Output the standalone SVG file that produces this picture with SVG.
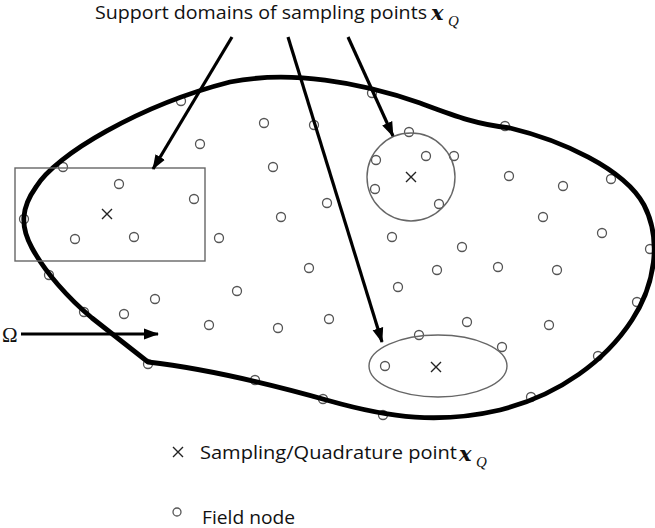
<svg xmlns="http://www.w3.org/2000/svg" width="655" height="528" viewBox="0 0 655 528">
  <defs>
    <marker id="head" markerUnits="userSpaceOnUse" markerWidth="15" markerHeight="14" viewBox="0 0 15 14" refX="14" refY="7" orient="auto">
      <path d="M0,1.5 L15,7 L0,12.5 Z" fill="#000"/>
    </marker>
    <style>
      .node { fill: none; stroke: #555; stroke-width: 1.3; }
      .domain { fill: none; stroke: #666; stroke-width: 1.4; }
      .cross { stroke: #222; stroke-width: 1.4; fill: none; }
      .arrow { stroke: #000; stroke-width: 3.2; fill: none; marker-end: url(#head); }
      .boundary { fill: none; stroke: #000; stroke-width: 4.8; stroke-linejoin: round; }
      .label { font-family: "Open Sans", "Liberation Sans", sans-serif; fill: #111; }
      .mathx { font-family: "DejaVu Serif", "Liberation Serif", serif; font-style: italic; font-weight: bold; fill: #111; }
      .mathsub { font-family: "Liberation Serif", serif; font-style: italic; fill: #111; }
    </style>
  </defs>
  <rect width="655" height="528" fill="#fff"/>

  <!-- field nodes -->
  <g id="field-nodes">
    <circle id="n1" class="node" cx="181" cy="101" r="4.5"/>
    <circle id="n2" class="node" cx="264" cy="123" r="4.5"/>
    <circle id="n3" class="node" cx="314" cy="125" r="4.5"/>
    <circle id="n4" class="node" cx="200" cy="144" r="4.5"/>
    <circle id="n5" class="node" cx="273" cy="167" r="4.5"/>
    <circle id="n6" class="node" cx="63" cy="167" r="4.5"/>
    <circle id="n7" class="node" cx="119" cy="184" r="4.5"/>
    <circle id="n8" class="node" cx="194" cy="199" r="4.5"/>
    <circle id="n9" class="node" cx="327" cy="203" r="4.5"/>
    <circle id="n10" class="node" cx="281" cy="217" r="4.5"/>
    <circle id="n11" class="node" cx="24" cy="219" r="4.5"/>
    <circle id="n12" class="node" cx="75" cy="239" r="4.5"/>
    <circle id="n13" class="node" cx="134" cy="237" r="4.5"/>
    <circle id="n14" class="node" cx="219" cy="238" r="4.5"/>
    <circle id="n15" class="node" cx="309" cy="268" r="4.5"/>
    <circle id="n16" class="node" cx="49" cy="275" r="4.5"/>
    <circle id="n17" class="node" cx="237" cy="291" r="4.5"/>
    <circle id="n18" class="node" cx="155" cy="299" r="4.5"/>
    <circle id="n19" class="node" cx="84" cy="312" r="4.5"/>
    <circle id="n20" class="node" cx="124" cy="314" r="4.5"/>
    <circle id="n21" class="node" cx="209" cy="325" r="4.5"/>
    <circle id="n22" class="node" cx="278" cy="328" r="4.5"/>
    <circle id="n23" class="node" cx="329" cy="319" r="4.5"/>
    <circle id="n24" class="node" cx="148" cy="364" r="4.5"/>
    <circle id="n25" class="node" cx="255" cy="380" r="4.5"/>
    <circle id="n26" class="node" cx="372" cy="93" r="4.5"/>
    <circle id="n27" class="node" cx="505" cy="126" r="4.5"/>
    <circle id="n28" class="node" cx="409" cy="132" r="4.5"/>
    <circle id="n29" class="node" cx="376" cy="160" r="4.5"/>
    <circle id="n30" class="node" cx="426" cy="156" r="4.5"/>
    <circle id="n31" class="node" cx="454" cy="156" r="4.5"/>
    <circle id="n32" class="node" cx="375" cy="189" r="4.5"/>
    <circle id="n33" class="node" cx="439" cy="204" r="4.5"/>
    <circle id="n34" class="node" cx="509" cy="176" r="4.5"/>
    <circle id="n35" class="node" cx="563" cy="186" r="4.5"/>
    <circle id="n36" class="node" cx="611" cy="179" r="4.5"/>
    <circle id="n37" class="node" cx="543" cy="217" r="4.5"/>
    <circle id="n38" class="node" cx="602" cy="233" r="4.5"/>
    <circle id="n39" class="node" cx="650" cy="249" r="4.5"/>
    <circle id="n40" class="node" cx="392" cy="237" r="4.5"/>
    <circle id="n41" class="node" cx="462" cy="247" r="4.5"/>
    <circle id="n42" class="node" cx="437" cy="270" r="4.5"/>
    <circle id="n43" class="node" cx="498" cy="267" r="4.5"/>
    <circle id="n44" class="node" cx="557" cy="270" r="4.5"/>
    <circle id="n45" class="node" cx="398" cy="287" r="4.5"/>
    <circle id="n46" class="node" cx="467" cy="322" r="4.5"/>
    <circle id="n47" class="node" cx="549" cy="325" r="4.5"/>
    <circle id="n48" class="node" cx="637" cy="302" r="4.5"/>
    <circle id="n49" class="node" cx="419" cy="335" r="4.5"/>
    <circle id="n50" class="node" cx="502" cy="347" r="4.5"/>
    <circle id="n51" class="node" cx="385" cy="366" r="4.5"/>
    <circle id="n52" class="node" cx="598" cy="356" r="4.5"/>
    <circle id="n53" class="node" cx="323" cy="399" r="4.5"/>
    <circle id="n54" class="node" cx="383" cy="415" r="4.5"/>
    <circle id="n55" class="node" cx="531" cy="397" r="4.5"/>
  </g>

  <!-- problem domain boundary -->
  <g id="domain-boundary">
    <path class="boundary" d="M148,362 L92,318 C68,298 45,272 32,248 C20,226 21,208 36,187 C55,155 140,105 230,82 C290,70 360,82 420,103 C455,116 475,124 510,128 C560,140 624,168 644,205 C662,240 655,285 632,320 C606,360 560,395 500,410 C440,424 390,418 330,401 C270,384 200,368 148,362 Z"/>
  </g>

  <!-- support domains with their sampling points -->
  <g id="support-rect">
    <rect class="domain" x="15" y="168" width="190" height="93"/>
    <path class="cross" d="M102,209 L112,219 M112,209 L102,219"/>
  </g>
  <g id="support-circle">
    <circle class="domain" cx="411" cy="177" r="44"/>
    <path class="cross" d="M406,172 L416,182 M416,172 L406,182"/>
  </g>
  <g id="support-ellipse">
    <ellipse class="domain" cx="438" cy="366" rx="69" ry="31"/>
    <path class="cross" d="M431,362 L441,372 M441,362 L431,372"/>
  </g>

  <!-- connectors -->
  <g id="connectors">
    <line class="arrow" x1="232" y1="37" x2="153" y2="169"/>
    <line class="arrow" x1="288" y1="37" x2="382" y2="342"/>
    <line class="arrow" x1="348" y1="37" x2="393" y2="136"/>
    <line class="arrow" x1="21" y1="334" x2="158" y2="334"/>
  </g>

  <!-- labels -->
  <g id="title">
    <text class="label" x="95" y="19" font-size="17.5" textLength="332" lengthAdjust="spacingAndGlyphs">Support domains of sampling points</text>
    <text class="mathx" x="431" y="20" font-size="21">x</text>
    <text class="mathsub" x="448" y="26" font-size="15">Q</text>
  </g>
  <g id="omega-label">
    <text x="2" y="342" font-family="Liberation Serif, serif" font-size="21" fill="#111">Ω</text>
  </g>
  <g id="legend">
    <path class="cross" d="M173,447 L183,457 M183,447 L173,457"/>
    <text class="label" x="200" y="459" font-size="18.5" textLength="257" lengthAdjust="spacingAndGlyphs">Sampling/Quadrature point</text>
    <text class="mathx" x="459" y="461" font-size="21">x</text>
    <text class="mathsub" x="476" y="467" font-size="15">Q</text>
    <circle class="node" cx="177" cy="512" r="4"/>
    <text class="label" x="202" y="523.5" font-size="18.5" textLength="93" lengthAdjust="spacingAndGlyphs">Field node</text>
  </g>
</svg>
